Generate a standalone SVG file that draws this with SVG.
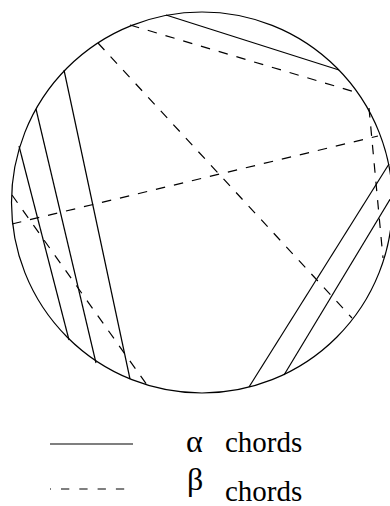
<svg xmlns="http://www.w3.org/2000/svg" width="390" height="506" viewBox="0 0 390 506">
<style>
.ln{fill:none;stroke:#000;stroke-width:1.2;stroke-linecap:butt}
.ds{stroke-dasharray:9.5 9}
.tx{font-family:"Liberation Serif","Times New Roman",serif;font-size:29px;fill:#000}
.gk{font-size:32px}
</style>
<rect width="390" height="506" fill="#fff"/>
<g id="circle">
<circle class="ln" cx="202" cy="202.5" r="190.5"/>
</g>
<g id="alpha-chords">
<line class="ln" x1="166" y1="15" x2="339" y2="70"/>
<line class="ln" x1="64" y1="70" x2="130" y2="379"/>
<line class="ln" x1="36" y1="109" x2="96" y2="363"/>
<line class="ln" x1="19" y1="146" x2="69" y2="340"/>
<line class="ln" x1="389" y1="164" x2="249" y2="387"/>
<line class="ln" x1="392" y1="196" x2="284" y2="375"/>
</g>
<g id="beta-chords">
<line class="ln ds" x1="130" y1="25" x2="355" y2="92"/>
<line class="ln ds" x1="98" y1="43" x2="352" y2="318"/>
<line class="ln ds" x1="12" y1="224" x2="378" y2="136"/>
<line class="ln ds" x1="369" y1="108" x2="383" y2="258"/>
<line class="ln ds" x1="12" y1="195" x2="147" y2="385"/>
</g>
<g id="legend">
<line class="ln" x1="50" y1="444" x2="133" y2="444"/>
<line class="ln" x1="50" y1="489" x2="133" y2="489" style="stroke-dasharray:8.3 10;stroke-dashoffset:7.3"/>
<text class="tx gk" x="186" y="452">α</text>
<text class="tx" x="225" y="452">chords</text>
<text class="tx gk" x="187" y="490">β</text>
<text class="tx" x="225" y="501">chords</text>
</g>
</svg>
